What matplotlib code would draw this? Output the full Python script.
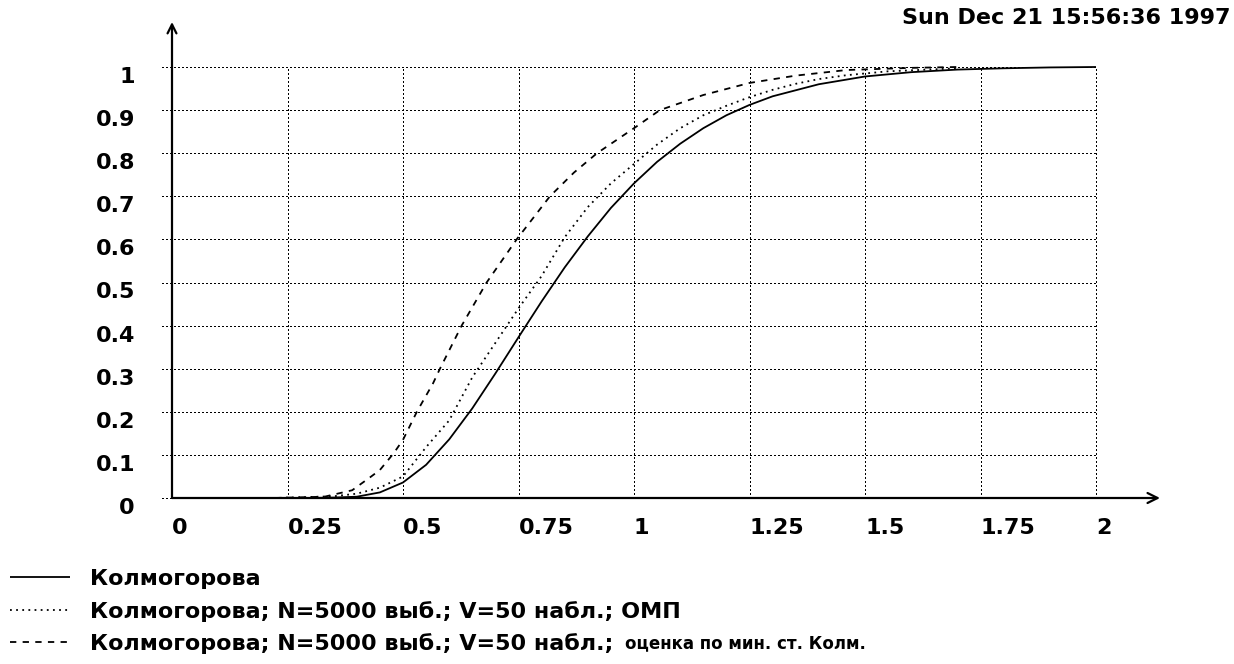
import matplotlib
matplotlib.use("Agg")
import matplotlib.pyplot as plt

W, H, DPI = 1234, 664, 100

# Axis ticks and their labels
x_ticks = [0, 0.25, 0.5, 0.75, 1, 1.25, 1.5, 1.75, 2]
x_tick_labels = ["0", "0.25", "0.5", "0.75", "1", "1.25", "1.5", "1.75", "2"]
y_ticks = [0, 0.1, 0.2, 0.3, 0.4, 0.5, 0.6, 0.7, 0.8, 0.9, 1]
y_tick_labels = ["0", "0.1", "0.2", "0.3", "0.4", "0.5", "0.6", "0.7", "0.8", "0.9", "1"]

# Kolmogorov distribution function
kolm_x = [0.22, 0.30, 0.35, 0.40, 0.45, 0.50, 0.55, 0.60, 0.65, 0.70, 0.75, 0.80,
          0.85, 0.90, 0.95, 1.00, 1.05, 1.10, 1.15, 1.20, 1.25, 1.30, 1.40, 1.50,
          1.60, 1.70, 1.80, 1.90, 2.00]
kolm_y = [0.000, 0.000, 0.001, 0.003, 0.013, 0.036, 0.077, 0.136, 0.208, 0.289, 0.373, 0.456,
          0.535, 0.607, 0.673, 0.730, 0.780, 0.822, 0.858, 0.888, 0.912, 0.932, 0.960, 0.978,
          0.988, 0.994, 0.997, 0.999, 1.000]

# Empirical distribution, maximum-likelihood estimates (ОМП)
mle_x = [0.22, 0.35, 0.40, 0.45, 0.50, 0.55, 0.60, 0.65, 0.70, 0.75, 0.80, 0.85, 0.90,
         0.95, 1.00, 1.05, 1.10, 1.15, 1.20, 1.25, 1.30, 1.35, 1.40, 1.46, 1.55, 1.70]
mle_y = [0.000, 0.004, 0.010, 0.024, 0.050, 0.118, 0.180, 0.280, 0.360, 0.440, 0.515, 0.605, 0.675,
         0.730, 0.775, 0.820, 0.858, 0.888, 0.910, 0.930, 0.947, 0.961, 0.972, 0.981, 0.990, 0.997]

# Empirical distribution, minimum Kolmogorov statistic estimates
mink_x = [0.22, 0.33, 0.39, 0.43, 0.45, 0.48, 0.50, 0.53, 0.565, 0.58, 0.627, 0.681,
          0.746, 0.818, 0.87, 0.92, 1.00, 1.056, 1.15, 1.25, 1.35, 1.46, 1.60, 1.70]
mink_y = [0.000, 0.003, 0.018, 0.049, 0.065, 0.104, 0.135, 0.200, 0.266, 0.300, 0.400, 0.500,
          0.600, 0.700, 0.755, 0.800, 0.858, 0.900, 0.935, 0.963, 0.980, 0.993, 0.998, 1.000]

series_labels = [
    "Колмогорова",
    "Колмогорова; N=5000 выб.; V=50 набл.; ОМП",
    "Колмогорова; N=5000 выб.; V=50 набл.;",
]
extra_label = "оценка по мин. ст. Колм."
stamp = "Sun Dec 21 15:56:36 1997"

PIX = dict(family="DejaVu Sans", weight="bold", size=16)

fig = plt.figure(figsize=(W / DPI, H / DPI), dpi=DPI)
fig.patch.set_facecolor("white")

# plot area: x 0..2 -> px 172..1096, y 0..1 -> px 498..67 (from top)
ax = fig.add_axes([172 / W, (H - 498) / H, (1096 - 172) / W, (498 - 67) / H])
ax.set_xlim(0, 2)
ax.set_ylim(0, 1)
for s in ax.spines.values():
    s.set_visible(False)
ax.patch.set_alpha(0)

# dotted grid, horizontal lines poke out a little left of the y axis
grid_kw = dict(color="black", lw=0.9, linestyle=(0, (1.2, 2.0)), clip_on=False,
               zorder=1, antialiased=False, snap=True)
x_left = -10 / 462
for yv in y_ticks:
    ax.plot([x_left, 2], [yv, yv], **grid_kw)
for xv in x_ticks[1:]:
    ax.plot([xv, xv], [0, 1], **grid_kw)

# axes with arrow heads
ax.annotate("", xy=((1160 - 172) / 462, 0), xytext=(0, 0),
            arrowprops=dict(arrowstyle="->", lw=1.6, color="black",
                            mutation_scale=18, shrinkA=0, shrinkB=0),
            annotation_clip=False, zorder=3)
ax.annotate("", xy=(0, (498 - 22) / 431), xytext=(0, 0),
            arrowprops=dict(arrowstyle="->", lw=1.6, color="black",
                            mutation_scale=16, shrinkA=0, shrinkB=0),
            annotation_clip=False, zorder=3)

# curves
l1, = ax.plot(kolm_x, kolm_y, color="black", lw=1.3, solid_capstyle="butt",
              clip_on=False, zorder=4)
l2, = ax.plot(mle_x, mle_y, color="black", lw=1.3, linestyle=(0, (1.0, 2.4)),
              clip_on=False, zorder=4)
l3, = ax.plot(mink_x, mink_y, color="black", lw=1.3, linestyle=(0, (3.5, 3.5)),
              clip_on=False, zorder=4)

# tick labels
ax.set_xticks(x_ticks)
ax.set_xticklabels(x_tick_labels, ha="left", va="top", **PIX)
ax.set_yticks(y_ticks)
ax.set_yticklabels(y_tick_labels, ha="right", va="top", **PIX)
ax.tick_params(axis="x", length=0, pad=20 * 0.72)
ax.tick_params(axis="y", length=0, pad=37 * 0.72)

# time stamp
fig.text(1230 / W, 1 - 18 / H, stamp, ha="right", va="center", **PIX)

# legend below the plot
leg = fig.legend(handles=[l1, l2, l3], labels=series_labels,
                 loc="upper left", bbox_to_anchor=(10 / W, 1 - 569 / H),
                 frameon=False, prop=dict(PIX),
                 handlelength=2.7, handletextpad=0.9, labelspacing=0.52,
                 borderpad=0, borderaxespad=0)

# the last legend entry continues in a plain sans face
fig.canvas.draw()
bb = leg.get_texts()[2].get_window_extent()
fig.text((bb.x1 + 12) / W, (bb.y0 + bb.y1) / 2 / H, extra_label,
         ha="left", va="center", family="DejaVu Sans", weight="bold", size=12)

fig.savefig("out.png", dpi=DPI, facecolor="white")
